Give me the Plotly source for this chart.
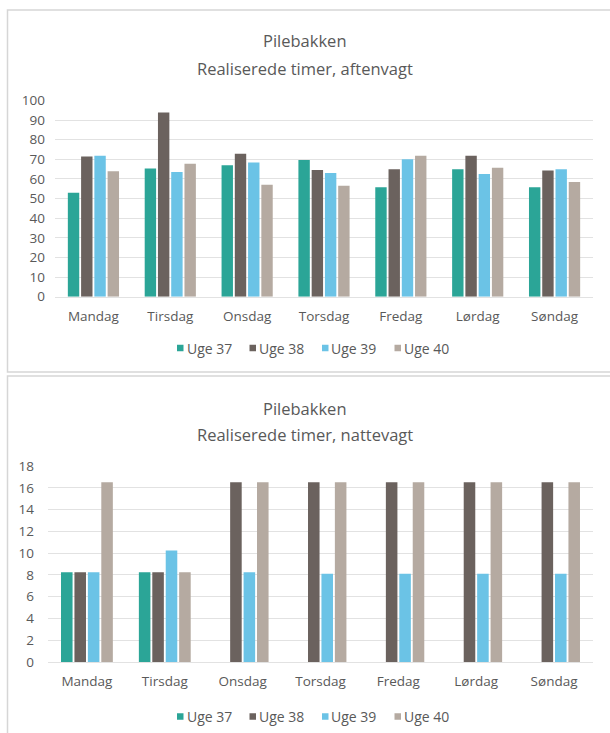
import plotly.graph_objects as go

days = ["Mandag", "Tirsdag", "Onsdag", "Torsdag", "Fredag", "Lørdag", "Søndag"]
series_names = ["Uge 37", "Uge 38", "Uge 39", "Uge 40"]
colors = ["#2BA597", "#6B625E", "#6BC3E6", "#B5AAA1"]

# Aftenvagt (evening shift)
aften_uge37 = [53, 65.3, 67, 69.7, 55.8, 65, 55.8]
aften_uge38 = [71.5, 93.9, 72.8, 64.6, 65, 71.8, 64.3]
aften_uge39 = [71.8, 63.6, 68.4, 63, 70.1, 62.6, 65]
aften_uge40 = [64, 67.7, 57.1, 56.5, 71.8, 65.7, 58.5]

# Nattevagt (night shift)
natte_uge37 = [8.25, 8.25, None, None, None, None, None]
natte_uge38 = [8.25, 8.25, 16.5, 16.5, 16.5, 16.5, 16.5]
natte_uge39 = [8.25, 10.25, 8.25, 8.1, 8.1, 8.1, 8.1]
natte_uge40 = [16.5, 8.25, 16.5, 16.5, 16.5, 16.5, 16.5]

aften = [aften_uge37, aften_uge38, aften_uge39, aften_uge40]
natte = [natte_uge37, natte_uge38, natte_uge39, natte_uge40]

W, H = 610, 733
FONT = "Open Sans"
TXT = "#595959"
GRID = "#E2E2E2"


def py(p):
    return 1 - p / H


def px(p):
    return p / W


fig = go.Figure()

for name, col, vals in zip(series_names, colors, aften):
    fig.add_trace(go.Bar(x=days, y=vals, name=name, marker=dict(color=col, line=dict(width=0)),
                         xaxis="x", yaxis="y", showlegend=False))
for name, col, vals in zip(series_names, colors, natte):
    fig.add_trace(go.Bar(x=days, y=vals, name=name, marker=dict(color=col, line=dict(width=0)),
                         xaxis="x2", yaxis="y2", showlegend=False))

axis_common = dict(showgrid=False, showline=True, linecolor=GRID, linewidth=1, ticks="",
                   tickfont=dict(family=FONT, size=13.5, color=TXT), fixedrange=True,
                   ticklabelstandoff=7)
yaxis_common = dict(showgrid=True, gridcolor=GRID, gridwidth=1, zeroline=False, showline=False,
                    ticks="", tickfont=dict(family=FONT, size=13.5, color=TXT), fixedrange=True)

fig.update_layout(
    width=W, height=H,
    margin=dict(l=0, r=0, t=0, b=0, autoexpand=False),
    paper_bgcolor="white", plot_bgcolor="white",
    font=dict(family=FONT, color=TXT),
    barmode="group", bargap=0.31, bargroupgap=0.14,
    xaxis=dict(domain=[px(55), px(593)], anchor="y", **axis_common),
    yaxis=dict(domain=[py(296.7), py(100.5)], anchor="x", range=[0, 100], dtick=10,
               ticklabelstandoff=9, **yaxis_common),
    xaxis2=dict(domain=[px(48), px(593)], anchor="y2", **axis_common),
    yaxis2=dict(domain=[py(662), py(466)], anchor="x2", range=[0, 18], dtick=2,
                ticklabelstandoff=13, **yaxis_common),
    showlegend=False,
)

# Chart titles
titles = [("Pilebakken", 40), ("Realiserede timer, aftenvagt", 68),
          ("Pilebakken", 408), ("Realiserede timer, nattevagt", 434)]
for text, ypix in titles:
    fig.add_annotation(text=text, x=0.5, xref="paper", y=py(ypix), yref="paper",
                       xanchor="center", yanchor="middle", showarrow=False,
                       font=dict(family=FONT, size=16.5, color=TXT))

# Legends (compact, Excel style): small square + label
legend_rows = [348, 716.5]
legend_x0 = 177
legend_step = 72.5
sq = 6.5
for ly in legend_rows:
    for i, (name, col) in enumerate(zip(series_names, colors)):
        x0 = legend_x0 + i * legend_step
        fig.add_shape(type="rect", xref="paper", yref="paper",
                      x0=px(x0), x1=px(x0 + sq), y0=py(ly + sq / 2), y1=py(ly - sq / 2),
                      line=dict(width=0), fillcolor=col)
        fig.add_annotation(text=name, x=px(x0 + sq + 1), xref="paper", y=py(ly), yref="paper",
                           xanchor="left", yanchor="middle", showarrow=False,
                           font=dict(family=FONT, size=14, color=TXT))

# Panel borders
fig.add_shape(type="rect", xref="paper", yref="paper", x0=px(7.5), x1=px(620), y0=py(372), y1=py(10),
              line=dict(color="#D6D6D6", width=1.5), fillcolor="rgba(0,0,0,0)", layer="below")
fig.add_shape(type="rect", xref="paper", yref="paper", x0=px(7.5), x1=px(620), y0=py(760), y1=py(376),
              line=dict(color="#D6D6D6", width=1.5), fillcolor="rgba(0,0,0,0)", layer="below")

fig.write_html("out.html")
